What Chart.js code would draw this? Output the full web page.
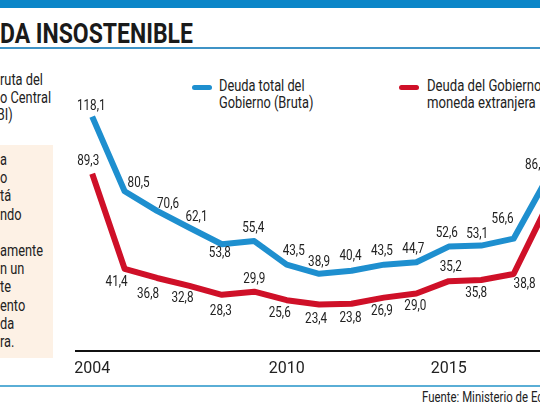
<!DOCTYPE html>
<html>
<head>
<meta charset="utf-8">
<script src="https://cdn.jsdelivr.net/npm/chart.js@4/dist/chart.umd.min.js"></script>
<style>
  html, body { margin: 0; padding: 0; background: #fff; }
  body { width: 540px; height: 405px; overflow: hidden; position: relative;
         font-family: Roboto, "Liberation Sans", sans-serif; color: #222; }
  .abs { position: absolute; white-space: nowrap; }
  .cond { transform: scaleX(0.8); transform-origin: 0 0; }
  #topbar { left: 0; top: 0; width: 540px; height: 8px; background: #0b86c8; }
  #titulo { left: 0; top: 17px; font-size: 28px; font-weight: bold; color: #1a1a1a; transform: scaleX(0.82); }
  #lineaTitulo { left: 0; top: 47px; width: 540px; height: 2px; background: #3f93c6; }
  #lineaPie { left: 0; top: 385px; width: 540px; height: 2px; background: #5aaed6; }
  #fuente { left: 422px; top: 388px; font-size: 15px; transform: scaleX(0.76); }
  #nota { left: 0; top: 71px; font-size: 16px; line-height: 17.5px; }
  #caja { left: 0; top: 145px; width: 53px; height: 213px; background: #fdf1e5; }
  #cajaTexto { left: 0; top: 151px; font-size: 16px; line-height: 18.2px; }
  .leyenda { top: 78px; font-size: 16px; line-height: 16.5px; }
  .marca { width: 20px; height: 5px; border-radius: 3px; top: 85px; }
  canvas { position: absolute; left: 0; top: 0; }
</style>
</head>
<body>
<div class="abs" id="topbar"></div>
<div class="abs" id="titulo" style="transform-origin:0 0">DA INSOSTENIBLE</div>
<div class="abs" id="lineaTitulo"></div>
<div class="abs cond" id="nota">ruta del<br>o Central<br><span style="margin-left:-4px">BI)</span></div>
<div class="abs" id="caja"></div>
<div class="abs cond" id="cajaTexto">a<br>o<br>tá<br>ndo<br>&nbsp;<br>amente<br>n un<br>te<br>ento<br>da<br>ra.</div>
<div class="abs marca" style="left:192px;background:#1e8fcf"></div>
<div class="abs leyenda cond" style="left:219px">Deuda total del<br>Gobierno (Bruta)</div>
<div class="abs marca" style="left:399px;background:#cf1028"></div>
<div class="abs leyenda cond" style="left:427px;transform:scaleX(0.82)">Deuda del Gobierno en<br>moneda extranjera</div>
<div class="abs" id="lineaPie"></div>
<div class="abs" id="fuente" style="transform-origin:0 0">Fuente: Ministerio de Economía</div>

<canvas id="grafico" width="570" height="405"></canvas>

<script>
// datos (% del PBI)
const anios = [2004, 2005, 2006, 2007, 2008, 2009, 2010, 2011, 2012, 2013, 2014, 2015, 2016, 2017, 2018];
const deudaBruta = [118.1, 80.5, 70.6, 62.1, 53.8, 55.4, 43.5, 38.9, 40.4, 43.5, 44.7, 52.6, 53.1, 56.6, 86.0];
const deudaExtranjera = [89.3, 41.4, 36.8, 32.8, 28.3, 29.9, 25.6, 23.4, 23.8, 26.9, 29.0, 35.2, 35.8, 38.8, 72.0];
const aniosEje = [2004, 2010, 2015];

// ubicacion de cada etiqueta respecto de su punto
const offBruta = [[-1,-10],[14,-8],[11,-7],[7,-11],[-2,9],[-1,-13],[7,-13],[0,-12],[-1,-15],[-2,-13],[-3,-13],[-2,-13],[-4,-11],[-11,-19],[-10,-15]];
const offExtranjera = [[-4,-13],[-8,13],[-9,16],[-7,12],[-1,16],[0,-12],[-7,13],[-3,15],[-1,14],[-2,14],[-1,13],[2,-14],[-5,13],[11,10],[24,0]];

const AZUL = '#1e8fcf';
const ROJO = '#cf1028';

const etiquetas = {
    id: 'etiquetas',
    afterDatasetsDraw(chart) {
        const ctx = chart.ctx;
        const offsets = [offBruta, offExtranjera];
        ctx.save();
        ctx.font = '15px Roboto, sans-serif';
        ctx.fillStyle = '#222';
        ctx.textAlign = 'center';
        ctx.textBaseline = 'middle';
        chart.data.datasets.forEach((ds, d) => {
            chart.getDatasetMeta(d).data.forEach((p, i) => {
                const txt = ds.data[i].y.toFixed(1).replace('.', ',');
                ctx.save();
                ctx.translate(p.x + offsets[d][i][0], p.y + offsets[d][i][1]);
                ctx.scale(0.78, 1);
                ctx.fillText(txt, 0, 0);
                ctx.restore();
            });
        });
        ctx.restore();
    }
};

const grafico = new Chart(document.querySelector('#grafico'), {
    type: 'line',
    data: {
        datasets: [
            {
                label: 'Deuda total del Gobierno (Bruta)',
                data: anios.map((a, i) => ({ x: a, y: deudaBruta[i] })),
                borderColor: AZUL,
                borderWidth: 6,
                borderJoinStyle: 'round',
                pointRadius: 0,
                tension: 0
            },
            {
                label: 'Deuda del Gobierno en moneda extranjera',
                data: anios.map((a, i) => ({ x: a, y: deudaExtranjera[i] })),
                borderColor: ROJO,
                borderWidth: 6,
                borderJoinStyle: 'round',
                pointRadius: 0,
                tension: 0
            }
        ]
    },
    options: {
        responsive: false,
        animation: false,
        layout: { padding: { left: 76, right: 24, top: 93, bottom: 24 } },
        plugins: { legend: { display: false }, tooltip: { enabled: false } },
        scales: {
            x: {
                type: 'linear',
                min: 2003.5,
                max: 2018,
                afterBuildTicks: s => { s.ticks = aniosEje.map(v => ({ value: v })); },
                afterFit: s => { s.height = 30; },
                grid: { display: false, drawTicks: false },
                border: { display: true, color: '#111', width: 2 },
                ticks: {
                    padding: 8,
                    color: '#222',
                    font: { family: 'Roboto', size: 16 },
                    maxRotation: 0,
                    callback: v => String(v)
                }
            },
            y: {
                display: false,
                min: 0,
                max: 130
            }
        }
    },
    plugins: [etiquetas]
});
</script>
</body>
</html>
